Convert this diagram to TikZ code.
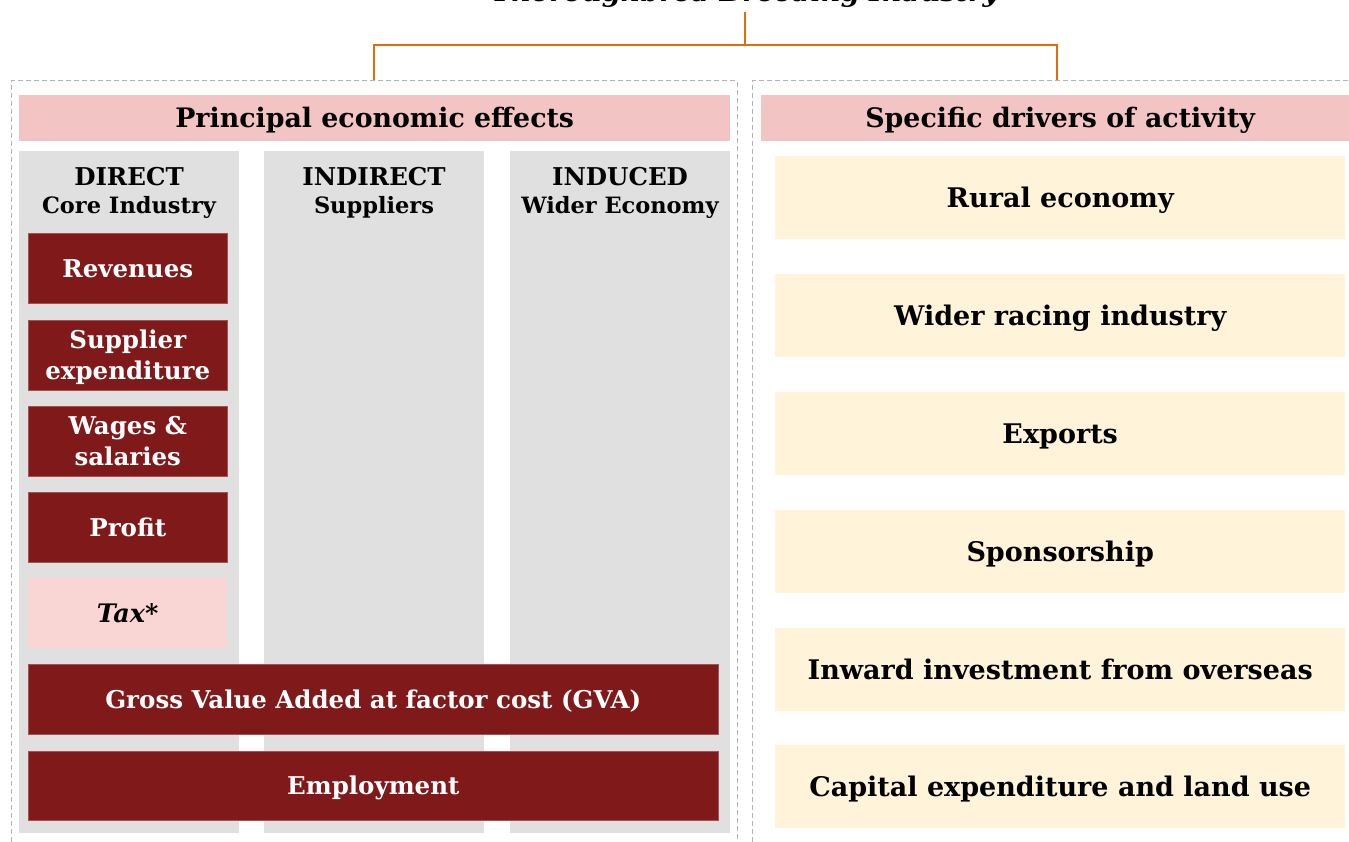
\documentclass[tikz,border=0pt]{standalone}
\usepackage{fontspec}
\setmainfont{DejaVu Serif}
\definecolor{dred}{RGB}{128,26,26}
\definecolor{dredline}{RGB}{170,80,80}
\definecolor{colgray}{RGB}{224,224,224}
\definecolor{hpink}{RGB}{242,196,196}
\definecolor{taxpink}{RGB}{249,213,211}
\definecolor{cream}{RGB}{255,243,218}
\definecolor{orangeline}{RGB}{227,108,10}
\definecolor{dashgray}{RGB}{180,180,180}
\begin{document}
\begin{tikzpicture}[x=1pt,y=-1pt,
  column/.style={fill=colgray, anchor=north west, inner sep=0pt, minimum width=220, minimum height=682},
  header/.style={fill=hpink, anchor=north west, inner sep=0pt, minimum height=46,
    text height=24.9pt, text depth=5.4pt,
    font=\fontsize{26.8}{32}\selectfont\bfseries},
  redbox/.style={fill=dred, draw=dredline, line width=0.6pt, text=white, anchor=north west,
    inner sep=0pt, align=center, minimum height=70, text height=22.8pt, text depth=4.9pt,
    font=\fontsize{24.5}{31}\selectfont\bfseries},
  twoline/.style={text height=53.8pt, text depth=4.9pt},
  taxbox/.style={fill=taxpink, anchor=north west, inner sep=0pt, minimum width=199, minimum height=70,
    text height=23.7pt, text depth=5.1pt,
    font=\fontsize{25.5}{31}\selectfont\bfseries\itshape},
  driver/.style={fill=cream, anchor=north west, inner sep=0pt, minimum width=570, minimum height=83,
    text height=25.1pt, text depth=5.4pt,
    font=\fontsize{27}{32}\selectfont\bfseries},
  colhead/.style={anchor=base, font=\fontsize{24.5}{28}\selectfont\bfseries},
  colsub/.style={anchor=base, font=\fontsize{22.5}{26}\selectfont\bfseries},
  framebox/.style={draw=dashgray, line width=1pt, dash pattern=on 5pt off 3pt},
  link/.style={draw=orangeline, line width=2.5pt}
]
\useasboundingbox (0,0) rectangle (1349,842);

% title and the bracket below it
\node[anchor=base, inner sep=0pt, font=\fontsize{27.2}{32}\selectfont\bfseries\itshape] (title) at (745,2) {Thoroughbred Breeding Industry};
\coordinate (stem) at (745,12);
\coordinate (fork) at (745,45);
\coordinate (lhook) at (374,81);
\coordinate (rhook) at (1057,81);
\draw[link] (stem) -- (fork);
\draw[link] (lhook) |- (fork) -| (rhook);

% dashed panels
\coordinate (lpanelA) at (11,850);
\coordinate (lpanelB) at (737,81);
\coordinate (lpanelC) at (737,850);
\coordinate (rpanelA) at (752,850);
\coordinate (rpanelB) at (1360,81);
\draw[framebox] (lpanelA) |- (lpanelB) -- (lpanelC);
\draw[framebox] (rpanelA) |- (rpanelB);

% effect columns
\node[column] (colA) at (19,151) {};
\node[column] (colB) at (264,151) {};
\node[column] (colC) at (510,151) {};

% headers
\node[header, minimum width=711] (hleft) at (19,95) {Principal economic effects};
\node[header, minimum width=598] (hright) at (761,95) {Specific drivers of activity};

% column titles
\node[colhead] (directA) at (129,186) {DIRECT};
\node[colsub] (directB) at (129,214) {Core Industry};
\node[colhead] (indirectA) at (374,186) {INDIRECT};
\node[colsub] (indirectB) at (374,214) {Suppliers};
\node[colhead] (inducedA) at (620,186) {INDUCED};
\node[colsub] (inducedB) at (620,214) {Wider Economy};

% direct effect boxes
\node[redbox, minimum width=199] (rev) at (28,233) {Revenues};
\node[redbox, twoline, minimum width=199] (supp) at (28,320) {Supplier\\expenditure};
\node[redbox, twoline, minimum width=199] (wage) at (28,406) {Wages \&\\salaries};
\node[redbox, minimum width=199] (prof) at (28,492) {Profit};
\node[taxbox] (tax) at (28,578) {Tax*};
\node[redbox, minimum width=690] (gva) at (28,664) {Gross Value Added at factor cost (GVA)};
\node[redbox, minimum width=690, minimum height=69] (emp) at (28,751) {Employment};

% drivers
\node[driver] (rural) at (775,156) {Rural economy};
\node[driver] (racing) at (775,274) {Wider racing industry};
\node[driver] (exports) at (775,392) {Exports};
\node[driver] (sponsor) at (775,510) {Sponsorship};
\node[driver] (inward) at (775,628) {Inward investment from overseas};
\node[driver] (capex) at (775,745) {Capital expenditure and land use};
\end{tikzpicture}
\end{document}
